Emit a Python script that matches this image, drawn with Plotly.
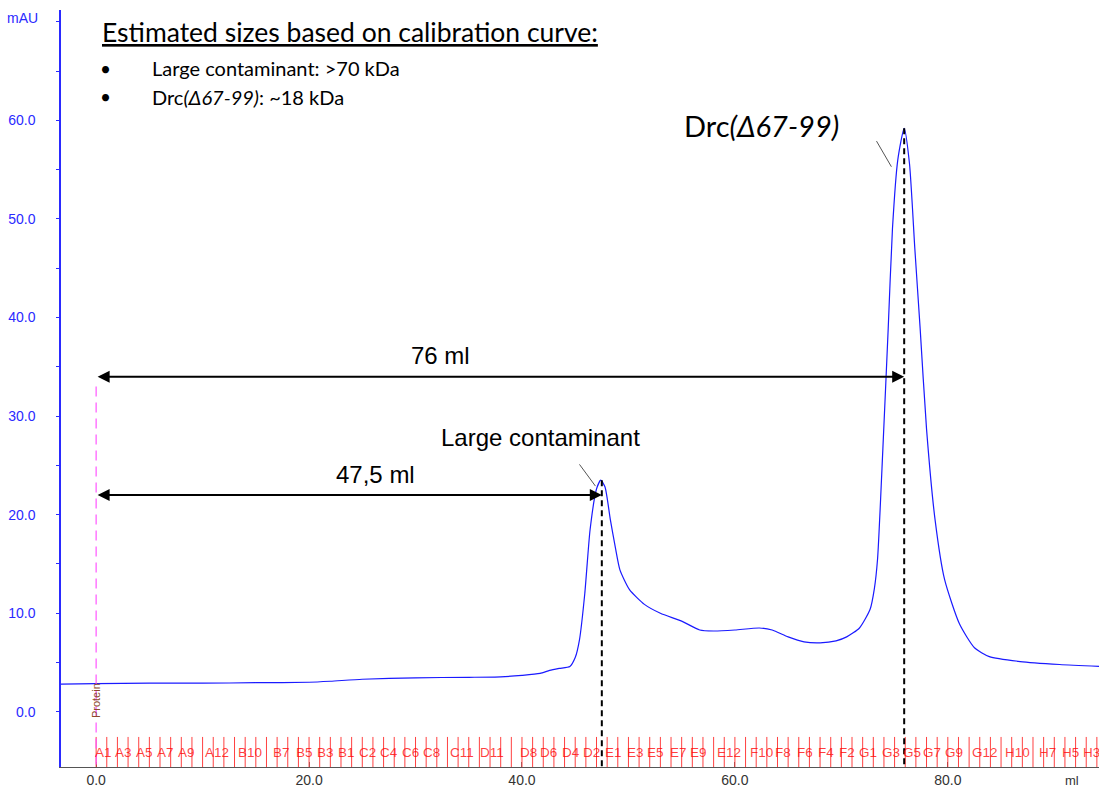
import plotly.graph_objects as go

# ---------------- data ----------------
volume_ml = [-3.3, 0, 5, 10, 15, 20, 22, 25, 30, 35, 38, 40, 41.7, 42.6, 43.5, 44.5, 45.0,
             45.4, 45.9, 46.4, 47.0, 47.4, 47.8, 48.3, 48.8, 49.2, 50.1, 51.5, 53, 55, 56.7,
             58, 60, 62.3, 63.5, 65, 66.5, 68, 69.5, 70.5, 71.7, 72.7, 73.1, 73.4, 73.9,
             74.4, 74.8, 75.3, 75.9, 76.4, 76.9, 77.4, 78.0, 78.8, 79.7, 81.1, 82.5, 83.9,
             86.8, 90.5, 94.2]
absorbance_mAU = [2.8, 2.85, 2.9, 2.9, 2.95, 3.0, 3.1, 3.3, 3.45, 3.5, 3.55, 3.7, 3.9, 4.2,
                  4.4, 4.6, 5.5, 7.3, 12.0, 18.5, 22.6, 23.5, 22.8, 19.5, 16.5, 14.4, 12.4,
                  10.9, 10.0, 9.2, 8.3, 8.2, 8.3, 8.5, 8.3, 7.6, 7.1, 7.0, 7.2, 7.6, 8.5,
                  10.4, 12.5, 15.5, 26.7, 38.9, 49.0, 56.0, 59.2, 55.6, 47.0, 38.9, 28.7,
                  19.5, 13.4, 8.9, 6.5, 5.6, 5.1, 4.8, 4.6]

fraction_tick_ml = list(range(0, 95))
fraction_labels = ["A1", "A3", "A5", "A7", "A9", "A12", "B10", "B7", "B5", "B3", "B1",
                   "C2", "C4", "C6", "C8", "C11", "D11", "D8", "D6", "D4", "D2", "E1", "E3",
                   "E5", "E7", "E9", "E12", "F10", "F8", "F6", "F4", "F2", "G1", "G3", "G5",
                   "G7", "G9", "G12", "H10", "H7", "H5", "H3"]
fraction_label_ml = [-0.1, 1.8, 3.7, 5.7, 7.7, 10.2, 13.3, 16.6, 18.8, 20.7, 22.7,
                     24.7, 26.7, 28.7, 30.7, 33.2, 36.1, 39.8, 41.7, 43.8, 45.7, 47.8, 49.9,
                     51.7, 53.9, 55.8, 58.3, 61.4, 63.8, 65.8, 67.8, 69.8, 71.7, 73.8, 75.8,
                     77.7, 79.7, 82.3, 85.4, 88.6, 90.7, 92.7]

x_ticks = [0, 20, 40, 60, 80]
x_ticktext = ["0.0", "20.0", "40.0", "60.0", "80.0"]
y_ticks = [0, 10, 20, 30, 40, 50, 60]
y_ticktext = ["0.0", "10.0", "20.0", "30.0", "40.0", "50.0", "60.0"]

peak1_ml, peak1_mAU = 47.5, 23.5
peak2_ml, peak2_mAU = 75.9, 59.2
arrow76_y = 34.0
arrow47_y = 22.0

X_RANGE = [-3.3, 94.2]
Y_RANGE = [-5.6, 71.2]
BLUE = "#2a2aff"
RED = "rgba(255,0,0,0.75)"
AR = "Liberation Sans, Arial"

fig = go.Figure()
fig.add_trace(go.Scatter(x=volume_ml, y=absorbance_mAU, mode="lines",
                         line=dict(color="#1a1aff", width=1.2, shape="spline", smoothing=0.6),
                         hoverinfo="skip"))

shapes = []
for t in fraction_tick_ml:
    shapes.append(dict(type="line", xref="x", yref="y", x0=t, x1=t, y0=-2.55, y1=Y_RANGE[0],
                       line=dict(color=RED, width=1)))
shapes.append(dict(type="line", xref="x", yref="y", x0=0, x1=0, y0=33.0, y1=Y_RANGE[0],
                   line=dict(color="#ff55ff", width=1.2, dash="10px,6px")))
shapes.append(dict(type="line", xref="x", yref="y", x0=peak1_ml, x1=peak1_ml, y0=peak1_mAU,
                   y1=Y_RANGE[0], line=dict(color="black", width=2, dash="6px,4px")))
shapes.append(dict(type="line", xref="x", yref="y", x0=peak2_ml, x1=peak2_ml, y0=peak2_mAU,
                   y1=Y_RANGE[0], line=dict(color="black", width=2, dash="6px,4px")))
shapes.append(dict(type="line", xref="x", yref="y", x0=45.4, y0=25.1, x1=46.9, y1=22.9,
                   line=dict(color="#555", width=1)))
shapes.append(dict(type="line", xref="x", yref="y", x0=73.3, y0=57.9, x1=74.7, y1=55.3,
                   line=dict(color="#555", width=1)))

ann = []
for lab, pos in zip(fraction_labels, fraction_label_ml):
    ann.append(dict(x=pos, y=-4.1, xref="x", yref="y", text=lab, showarrow=False,
                    xanchor="left", yanchor="middle", xshift=-2,
                    font=dict(family=AR, size=13.5, color=RED)))
ann.append(dict(x=0, y=1.1, xref="x", yref="y", text="Protein", showarrow=False, textangle=-90,
                font=dict(family=AR, size=11, color="#8b4a2b")))
for y_arr, x_end in [(arrow76_y, peak2_ml), (arrow47_y, peak1_ml)]:
    ann.append(dict(x=x_end, y=y_arr, ax=0, ay=y_arr, xref="x", yref="y", axref="x", ayref="y",
                    text="", showarrow=True, arrowhead=2, startarrowhead=2, arrowside="end+start",
                    arrowsize=1.2, startarrowsize=1.2, arrowwidth=2, arrowcolor="black"))
ann.append(dict(x=32.3, y=36.1, xref="x", yref="y", text="76 ml", showarrow=False,
                font=dict(family=AR, size=24, color="black")))
ann.append(dict(x=26.2, y=24.1, xref="x", yref="y", text="47,5 ml", showarrow=False,
                font=dict(family=AR, size=24, color="black")))
ann.append(dict(x=41.7, y=27.8, xref="x", yref="y", text="Large contaminant", showarrow=False,
                font=dict(family=AR, size=24, color="black")))
ann.append(dict(x=62.5, y=59.5, xref="x", yref="y", text="Drc<i>(Δ67-99)</i>", showarrow=False,
                font=dict(family="Lato", size=29, color="black")))
ann.append(dict(x=0.38, y=69.0, xref="x", yref="y", text="Estimated sizes based on calibration curve:",
                showarrow=False, xanchor="left",
                font=dict(family="Lato", size=26.5, color="black", lineposition="under")))
for yy, txt in [(65.3, "Large contaminant: >70 kDa"), (62.4, "Drc<i>(Δ67-99)</i>: ~18 kDa")]:
    ann.append(dict(x=0.9, y=yy, xref="x", yref="y", text="•", showarrow=False,
                    xanchor="center", font=dict(family="Lato", size=19, color="black")))
    ann.append(dict(x=5.1, y=yy, xref="x", yref="y", text=txt, showarrow=False,
                    xanchor="left", font=dict(family="Lato", size=20, color="black")))
ann.append(dict(x=0, y=1, xref="paper", yref="paper", text="mAU", showarrow=False,
                xanchor="right", yanchor="middle", xshift=-21, yshift=-8,
                font=dict(family=AR, size=14, color=BLUE)))
ann.append(dict(x=1, y=0, xref="paper", yref="paper", text="ml", showarrow=False,
                xanchor="right", yanchor="middle", xshift=-18, yshift=-13,
                font=dict(family=AR, size=13, color="#333")))

fig.update_layout(
    width=1099, height=787,
    margin=dict(l=61, r=0, t=10, b=20),
    plot_bgcolor="white", paper_bgcolor="white",
    showlegend=False, shapes=shapes, annotations=ann,
    xaxis=dict(range=X_RANGE, showgrid=False, zeroline=False, showline=True,
               linecolor="#555", linewidth=1, tickvals=x_ticks, ticktext=x_ticktext,
               ticks="inside", ticklen=5, tickcolor="#888",
               tickfont=dict(family=AR, size=14, color="#333")),
    yaxis=dict(range=Y_RANGE, showgrid=False, zeroline=False, showline=True,
               linecolor=BLUE, linewidth=1.5, tickvals=y_ticks, ticktext=y_ticktext,
               ticks="outside", ticklen=3, tickcolor=BLUE, ticklabelstandoff=18,
               tickfont=dict(family=AR, size=14, color=BLUE),
               minor=dict(tickvals=[5, 15, 25, 35, 45, 55, 65, 70], ticks="outside",
                          ticklen=3, tickcolor=BLUE)),
)

# remove the default page margin so the 1099x787 figure fills the window exactly
fig.write_html("out.html", config={"displayModeBar": False},
               post_script="document.body.style.margin='0px';"
                           "document.body.style.overflow='hidden';")
